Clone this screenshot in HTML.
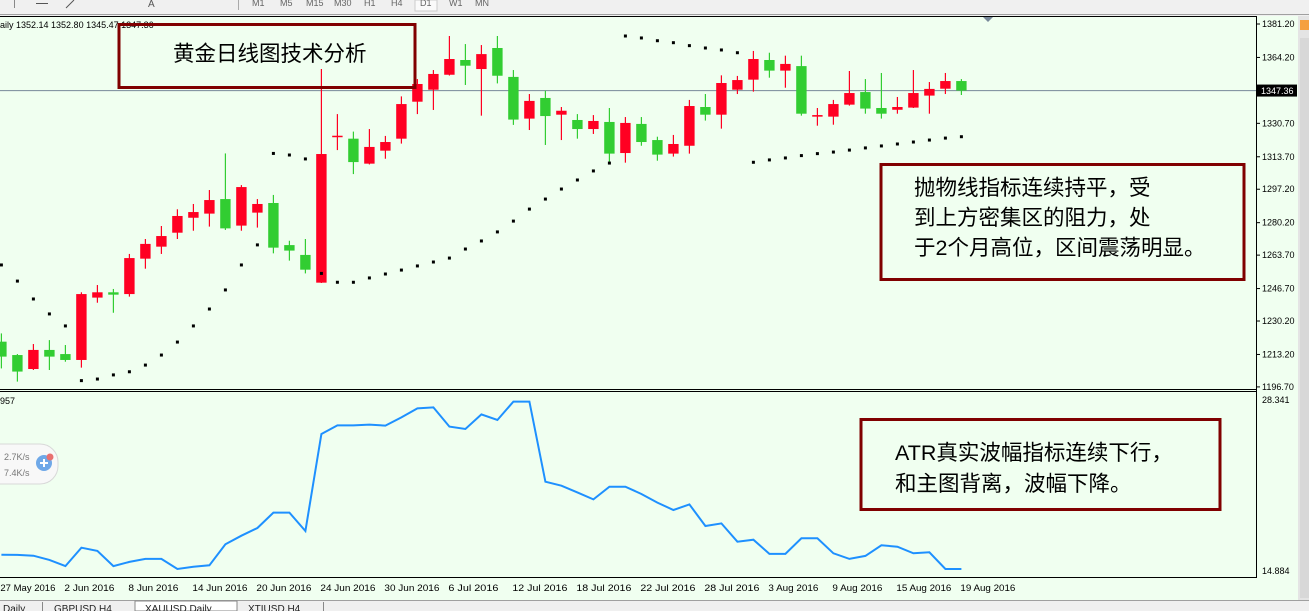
<!DOCTYPE html>
<html><head><meta charset="utf-8">
<style>
html,body{margin:0;padding:0;background:#f0f0f0;}
body{width:1309px;height:611px;overflow:hidden;position:relative;font-family:"Liberation Sans",sans-serif;}
svg{position:absolute;left:0;top:0;}
.cjk{font-family:"Liberation Sans","Noto Sans CJK SC","WenQuanYi Zen Hei",sans-serif;}
</style></head>
<body>
<svg id="chart" width="1309" height="611" xmlns="http://www.w3.org/2000/svg"></svg>
<script>
// ---- data ----
const opens  = [1219.7,1212.9,1205.8,1215.5,1213.4,1210.4,1242.1,1244.8,1243.9,1261.9,1268.0,1275.1,1282.7,1284.8,1292.2,1278.7,1285.3,1290.2,1268.8,1263.8,1249.7,1323.9,1322.9,1310.2,1316.8,1322.9,1341.7,1347.8,1355.4,1362.9,1358.3,1369.0,1354.3,1333.1,1343.6,1335.1,1332.4,1327.8,1331.4,1315.6,1330.4,1322.2,1315.3,1319.3,1339.0,1335.1,1347.8,1352.9,1362.9,1357.5,1359.8,1334.1,1334.1,1340.2,1346.6,1338.5,1337.6,1338.7,1344.8,1348.3,1352.2];
const highs  = [1223.9,1213.4,1218.5,1220.5,1218.0,1244.8,1248.5,1246.5,1264.3,1271.9,1278.5,1287.0,1289.7,1296.8,1315.4,1299.3,1292.2,1294.3,1271.0,1271.9,1358.3,1335.4,1326.5,1327.8,1324.3,1344.4,1353.2,1357.8,1375.1,1371.0,1370.5,1375.1,1357.8,1345.6,1347.3,1339.0,1335.4,1334.9,1338.5,1333.9,1333.9,1323.9,1324.8,1342.6,1345.6,1355.1,1354.8,1367.5,1366.6,1365.1,1365.1,1338.5,1342.6,1357.3,1353.2,1356.3,1344.1,1357.8,1351.7,1356.3,1353.2];
const lows   = [1206.1,1199.4,1205.3,1205.3,1209.5,1206.5,1239.5,1234.4,1242.6,1256.8,1264.3,1271.9,1276.1,1278.2,1276.5,1276.1,1277.7,1264.6,1260.9,1254.4,1249.5,1317.1,1304.9,1309.8,1312.7,1320.4,1335.4,1337.5,1355.0,1350.2,1334.6,1351.0,1329.9,1327.3,1319.7,1322.2,1322.9,1325.3,1311.2,1310.7,1319.3,1311.7,1313.8,1315.3,1332.1,1328.0,1345.6,1346.8,1353.9,1348.8,1334.6,1329.5,1330.0,1339.7,1335.6,1333.1,1335.6,1338.5,1335.6,1345.6,1345.1];
const closes = [1212.1,1204.5,1215.5,1212.1,1210.4,1243.9,1244.8,1243.6,1262.2,1269.4,1273.4,1283.6,1285.6,1291.7,1277.3,1298.3,1289.7,1267.5,1266.0,1256.3,1315.1,1324.4,1311.0,1318.7,1321.2,1340.5,1350.7,1355.8,1363.4,1360.0,1365.9,1354.9,1332.6,1342.1,1334.4,1337.1,1327.8,1331.9,1315.3,1330.9,1321.2,1314.8,1320.2,1339.5,1335.1,1351.2,1352.7,1363.4,1357.5,1360.9,1335.6,1334.9,1340.5,1346.1,1338.2,1335.6,1339.0,1346.1,1348.2,1352.2,1347.36];
const sar    = [1258.7,1250.5,1241.4,1233.8,1227.7,1199.9,1200.7,1202.8,1204.4,1207.8,1212.9,1219.5,1227.7,1236.3,1246.0,1258.7,1268.9,1315.4,1314.6,1312.6,1254.4,1249.9,1249.9,1252.1,1254.1,1256.1,1258.2,1260.2,1262.2,1266.8,1270.9,1275.5,1281.0,1287.1,1292.2,1297.3,1301.9,1306.5,1310.5,1375.1,1374.1,1372.7,1371.7,1370.2,1369.0,1368.0,1366.6,1310.9,1312.1,1313.1,1314.3,1315.3,1316.1,1317.1,1318.2,1319.2,1320.2,1321.2,1322.2,1323.2,1323.9];
const atr    = [16.03,16.01,15.95,15.61,15.12,16.59,16.33,15.12,15.45,15.69,15.69,14.88,15.07,15.18,16.86,17.55,18.17,19.40,19.40,17.93,25.70,26.39,26.39,26.45,26.37,27.03,27.75,27.83,26.29,26.10,27.27,26.82,28.29,28.29,21.88,21.56,21.02,20.46,21.48,21.48,20.89,20.20,19.61,20.06,18.33,18.54,17.07,17.23,16.09,16.09,17.34,17.34,16.14,15.69,15.93,16.78,16.67,16.14,16.22,14.88,14.88];
const dateLabels = ["27 May 2016","2 Jun 2016","8 Jun 2016","14 Jun 2016","20 Jun 2016","24 Jun 2016","30 Jun 2016","6 Jul 2016","12 Jul 2016","18 Jul 2016","22 Jul 2016","28 Jul 2016","3 Aug 2016","9 Aug 2016","15 Aug 2016","19 Aug 2016"];
const dateIdx = [0,4,8,12,16,20,24,28,32,36,40,44,48,52,56,60];
const priceTicks = [1381.20,1364.20,1347.20,1330.70,1313.70,1297.20,1280.20,1263.70,1246.70,1230.20,1213.20,1196.70];
const lastPrice = 1347.36;
const atrMax = 28.341, atrMin = 14.884;

// ---- axes ----
const xI = i => 1.4 + 16*i;
const yP = p => 24 + (1381.2 - p) * 1.967;
const yA = v => 401 + (atrMax - v) * 168 / (atrMax - atrMin);

const NS = "http://www.w3.org/2000/svg";
const svg = document.getElementById('chart');
function mk(tag, attrs, parent){ const e=document.createElementNS(NS,tag); for(const k in attrs) e.setAttribute(k,attrs[k]); (parent||svg).appendChild(e); return e; }
function txt(x,y,s,size,fill,extra){ const t=mk('text',Object.assign({x:x,y:y,'font-size':size,fill:fill},extra||{})); t.textContent=s; return t; }

// backgrounds
let e;
e = mk('rect',{x:0,y:0,width:1309,height:14,fill:'#f0f0f0'});
 
mk('line',{x1:0,y1:14.5,x2:1309,y2:14.5,stroke:'#a0a0a0'});
e = mk('rect',{x:0,y:16,width:1298,height:584,fill:'#f0fff0'});
 
mk('rect',{x:1298,y:16,width:11,height:584,fill:'#e4e4e4'});
mk('rect',{x:1300,y:38,width:9,height:560,fill:'#d8d8d8'});
mk('rect',{x:1300,y:20,width:9,height:10,fill:'#f5a040'});
mk('line',{x1:0,y1:16.5,x2:1256,y2:16.5,stroke:'#000'});
mk('line',{x1:1256.5,y1:16,x2:1256.5,y2:578,stroke:'#000'});
mk('line',{x1:0,y1:389.5,x2:1256,y2:389.5,stroke:'#000'});
mk('line',{x1:0,y1:391.5,x2:1256,y2:391.5,stroke:'#000'});
mk('line',{x1:0,y1:577.5,x2:1256,y2:577.5,stroke:'#000'});

// toolbar items
const tbItems=["M1","M5","M15","M30","H1","H4","D1","W1","MN"];
const tbX=[252,280,306,334,364,391,420,449,475];
mk('line',{x1:14.5,y1:0,x2:14.5,y2:8,stroke:'#888'});
mk('line',{x1:36,y1:3.5,x2:48,y2:3.5,stroke:'#555'});
mk('line',{x1:66,y1:8,x2:74,y2:0,stroke:'#555'});
txt(148,7,'A',10,'#555');
mk('line',{x1:238.5,y1:0,x2:238.5,y2:10,stroke:'#aaa'});
mk('rect',{x:415,y:0,width:22,height:11,fill:'#fafafa',stroke:'#ccc'});
tbItems.forEach((s,k)=>{ const t=txt(tbX[k],6,s,9,'#666');   });

// grid-less price axis
priceTicks.forEach(p=>{
  mk('line',{x1:1256,y1:yP(p),x2:1260,y2:yP(p),stroke:'#000'});
  const t=txt(1262,yP(p)+3,p.toFixed(2),9,'#000');
   
});
// current price line & label
mk('line',{x1:0,y1:yP(lastPrice),x2:1256,y2:yP(lastPrice),stroke:'#778899'});
e = mk('rect',{x:1257,y:yP(lastPrice)-6,width:40,height:12,fill:'#000'});
 
txt(1261,yP(lastPrice)+3.5,lastPrice.toFixed(2),9,'#fff');
// scroll marker
mk('polygon',{points:'983,17 993,17 988,22',fill:'#778899'});

// candles
for(let i=0;i<opens.length;i++){
  const up = closes[i] >= opens[i];
  const col = up ? '#ff0022' : '#32cd32';
  const g = mk('g',{});
  
  
  const x = xI(i);
  mk('line',{x1:x,y1:yP(highs[i]),x2:x,y2:yP(lows[i]),stroke:col,'stroke-width':1.2},g);
  const top = yP(Math.max(opens[i],closes[i])), bot = yP(Math.min(opens[i],closes[i]));
  mk('rect',{x:x-5.2,y:top,width:10.4,height:Math.max(1.5,bot-top),fill:col},g);
}
// parabolic SAR
sar.forEach((v,i)=>{
  const d = mk('rect',{x:xI(i)-1.5,y:yP(v)-1.5,width:3,height:3,fill:'#000'});
  
  
});

// header text
txt(0,28,'aily  1352.14 1352.80 1345.47 1347.36',9,'#000');

// ATR
const pts = atr.map((v,i)=>xI(i).toFixed(1)+','+yA(v).toFixed(1)).join(' ');
e = mk('polyline',{points:pts,fill:'none',stroke:'#1e90ff','stroke-width':2});
 
txt(1262,403,atrMax.toFixed(3),9,'#000');
txt(1262,574,atrMin.toFixed(3),9,'#000');
txt(0,404,'957',9,'#000');

// dates
dateIdx.forEach((idx,k)=>{
  const t = txt(xI(idx)-1, 591, dateLabels[k], 9, '#000', {textLength: dateLabels[k].length>10?55:(dateLabels[k].length>9?50:45), lengthAdjust:'spacingAndGlyphs'});
  
  
});

// annotation boxes
function box(x,y,w,h,name){ const r=mk('rect',{x:x,y:y,width:w,height:h,fill:'none',stroke:'#800000','stroke-width':3});   }
box(119,24.5,296,63,'title-annotation-box');
txt(173,61,'黄金日线图技术分析',21.5,'#000',{class:'cjk'});
box(881,164.5,363,115,'sar-annotation-box');
['抛物线指标连续持平，受','到上方密集区的阻力，处','于2个月高位，区间震荡明显。'].forEach((s,k)=>{
  const t=txt(914,195+k*30,s,21.5,'#000',{class:'cjk'});  
});
box(861,419.5,359,90,'atr-annotation-box');
['ATR真实波幅指标连续下行，','和主图背离，波幅下降。'].forEach((s,k)=>{
  const t=txt(895,460+k*31,s,21.5,'#000',{class:'cjk'});  
});

// network widget
e = mk('rect',{x:-20,y:444,width:78,height:40,rx:18,fill:'#f8f8f8',stroke:'#d8d8d8'});
 
txt(4,460,'2.7K/s',9,'#777'); txt(4,476,'7.4K/s',9,'#777');
mk('circle',{cx:44,cy:463,r:8,fill:'#6fa8e8'});
mk('line',{x1:40,y1:463,x2:48,y2:463,stroke:'#fff','stroke-width':2});
mk('line',{x1:44,y1:459,x2:44,y2:467,stroke:'#fff','stroke-width':2});
mk('circle',{cx:50,cy:457,r:3.5,fill:'#e87070'});

// tabs
mk('rect',{x:0,y:600,width:1309,height:11,fill:'#f0f0f0'});
mk('line',{x1:0,y1:600.5,x2:1309,y2:600.5,stroke:'#a0a0a0'});
mk('rect',{x:135,y:601,width:102,height:10,fill:'#fff',stroke:'#888'});
const tabs=[['Daily',3],['GBPUSD,H4',54],['XAUUSD,Daily',145],['XTIUSD,H4',248]];
tabs.forEach(t=>{ const el=txt(t[1],612,t[0],10,'#222');   });
mk('line',{x1:42.5,y1:602,x2:42.5,y2:611,stroke:'#888'});
mk('line',{x1:323.5,y1:602,x2:323.5,y2:611,stroke:'#888'});
</script>
</body></html>
